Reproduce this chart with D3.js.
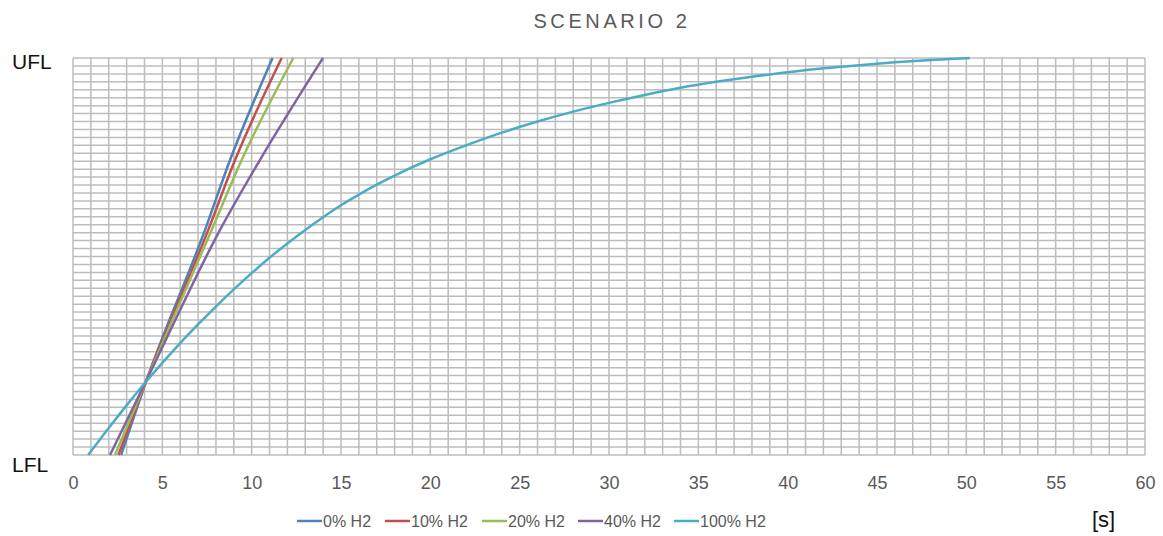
<!DOCTYPE html>
<html>
<head>
<meta charset="utf-8">
<script src="https://cdn.jsdelivr.net/npm/d3@7"></script>
<style>
  body { margin: 0; background: #fff; }
  svg { display: block; }
</style>
</head>
<body>
<svg id="chart"></svg>
<script>
// Scenario 2: progress between LFL (0) and UFL (100) over time [s]

const seriesNames = ['0% H2', '10% H2', '20% H2', '40% H2', '100% H2'];
const seriesColors = ['#4f81bd', '#c0504d', '#9bbb59', '#8064a2', '#4bacc6'];

const timeH0 = [2.69, 4.12, 7.39, 8.79, 11.17];
const levelH0 = [0, 18.9, 56.7, 74.3, 100];

const timeH10 = [2.54, 4.12, 7.57, 9.07, 11.68];
const levelH10 = [0, 18.9, 56.7, 74.3, 100];

const timeH20 = [2.35, 4.12, 7.76, 9.44, 12.33];
const levelH20 = [0, 18.9, 56.7, 74.3, 100];

const timeH40 = [2.07, 4.12, 8.23, 10.46, 13.99];
const levelH40 = [0, 18.9, 56.7, 74.3, 100];

const timeH100 = [0.85, 2, 3, 4, 5, 6, 7, 8, 9, 10, 11, 12, 13, 14, 15, 16, 17, 18, 20, 22, 24, 26, 28, 30, 32, 34, 36, 38, 40, 42, 44, 46, 48, 50.2];
const levelH100 = [0, 6.8, 12.5, 18.0, 23.2, 28.2, 32.9, 37.4, 41.7, 45.8, 49.7, 53.3, 56.7, 59.9, 62.9, 65.6, 68.1, 70.4, 74.5, 78.0, 81.2, 84.0, 86.5, 88.7, 90.7, 92.5, 94.0, 95.3, 96.4, 97.4, 98.2, 98.9, 99.5, 100];

const xTicks = [0, 5, 10, 15, 20, 25, 30, 35, 40, 45, 50, 55, 60];
const yLabels = ['LFL', 'UFL'];

const allTimes = [timeH0, timeH10, timeH20, timeH40, timeH100];
const allLevels = [levelH0, levelH10, levelH20, levelH40, levelH100];

const width = 1163;
const height = 536;
const margin = { top: 58, right: 18, bottom: 81, left: 73 };
const font = 'Liberation Sans, Arial, sans-serif';

const svg = d3.select('#chart')
    .attr('width', width)
    .attr('height', height);

const x = d3.scaleLinear().domain([0, 60]).range([margin.left, width - margin.right]);
const y = d3.scaleLinear().domain([0, 100]).range([height - margin.bottom, margin.top]);

// Griglia fitta: 1 s in orizzontale, 2 unità in verticale
const grid = svg.append('g');
grid.selectAll('line.v')
    .data(d3.range(0, 61, 1))
    .enter()
    .append('line')
    .attr('x1', (d) => x(d)).attr('x2', (d) => x(d))
    .attr('y1', y(0)).attr('y2', y(100))
    .attr('stroke', '#bcbcbc')
    .attr('stroke-width', 1.5);

grid.selectAll('line.h')
    .data(d3.range(0, 101, 2))
    .enter()
    .append('line')
    .attr('x1', x(0)).attr('x2', x(60))
    .attr('y1', (d) => y(d)).attr('y2', (d) => y(d))
    .attr('stroke', '#bcbcbc')
    .attr('stroke-width', 1.5);

// Titolo
svg.append('text')
    .attr('x', 612)
    .attr('y', 28)
    .attr('text-anchor', 'middle')
    .style('font-family', font)
    .style('font-size', '20px')
    .style('letter-spacing', '3.6px')
    .style('fill', '#595959')
    .text('SCENARIO 2');

// Etichette asse x
const xAxis = d3.axisBottom(x).tickValues(xTicks).tickSize(0).tickPadding(0);
const gx = svg.append('g')
    .attr('transform', `translate(0,${ y(0) + 34 })`)
    .call(xAxis);
gx.select('.domain').remove();
gx.selectAll('text')
    .attr('dy', 0)
    .style('font-family', font)
    .style('font-size', '18px')
    .style('fill', '#595959');

// LFL / UFL
svg.selectAll('text.ylab')
    .data(yLabels)
    .enter()
    .append('text')
    .attr('class', 'ylab')
    .attr('x', 12)
    .attr('y', (d, i) => y(i * 100) + (i ? 11 : 17))
    .style('font-family', font)
    .style('font-size', '21px')
    .style('fill', '#111')
    .text((d) => d);

// Serie
const line = d3.line()
    .x((d) => x(d[0]))
    .y((d) => y(d[1]))
    .curve(d3.curveMonotoneX);

allTimes.forEach((times, i) => {
    const pts = times.map((t, j) => [t, allLevels[i][j]]);
    svg.append('path')
        .datum(pts)
        .attr('d', line)
        .attr('fill', 'none')
        .attr('stroke', seriesColors[i])
        .attr('stroke-width', 2.5);
});

// Legenda
const legendX = [297, 385, 482, 578, 674];
const legend = svg.append('g').attr('transform', 'translate(0,521)');
seriesNames.forEach((name, i) => {
    legend.append('line')
        .attr('x1', legendX[i]).attr('x2', legendX[i] + 25)
        .attr('y1', 0).attr('y2', 0)
        .attr('stroke', seriesColors[i])
        .attr('stroke-width', 2.5);
    legend.append('text')
        .attr('x', legendX[i] + 26)
        .attr('y', 6)
        .style('font-family', font)
        .style('font-size', '16px')
        .style('fill', '#595959')
        .text(name);
});

// Unità
svg.append('text')
    .attr('x', 1092)
    .attr('y', 527)
    .style('font-family', font)
    .style('font-size', '22px')
    .style('fill', '#111')
    .text('[s]');
</script>
</body>
</html>
